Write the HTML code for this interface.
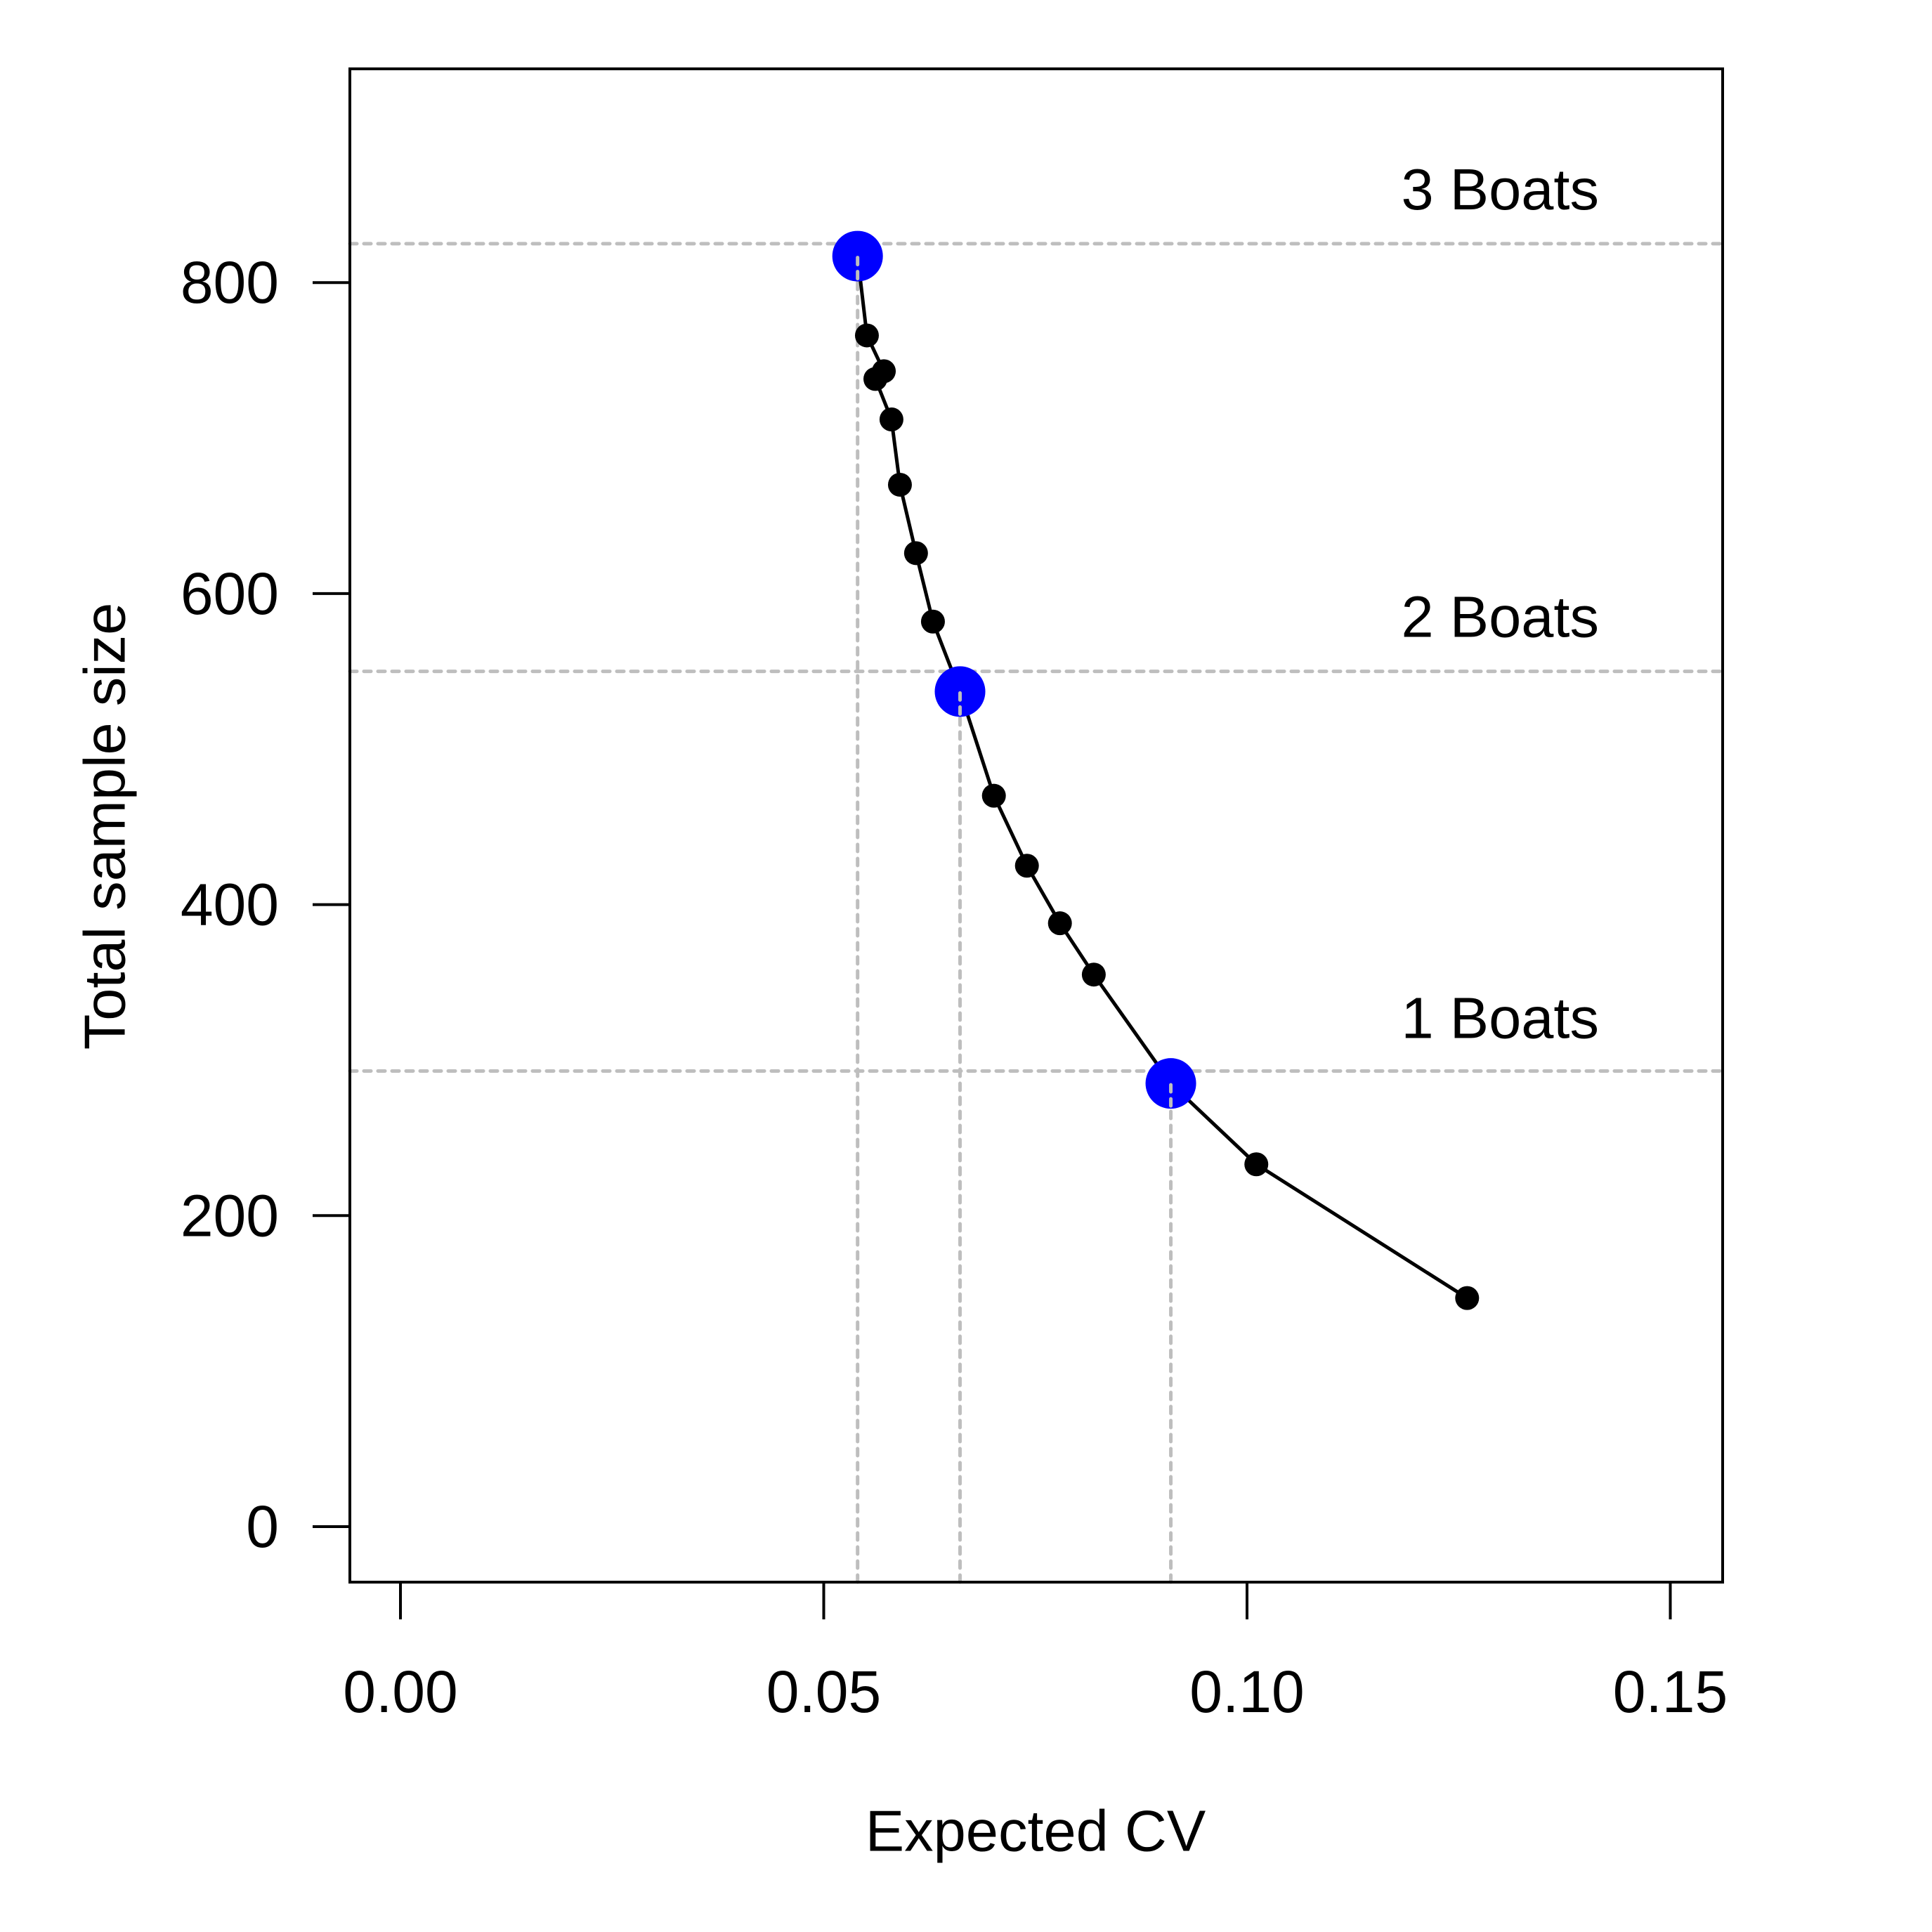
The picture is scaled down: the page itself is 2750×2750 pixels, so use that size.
<!DOCTYPE html>
<html><head><meta charset="utf-8"><style>
html,body{margin:0;padding:0;background:#fff}
svg{display:block}
text{font-family:"Liberation Sans",Arial,sans-serif;fill:#000}
</style></head><body>
<svg id="chart" width="2750" height="2750" viewBox="0 0 2750 2750" xmlns="http://www.w3.org/2000/svg">
<g id="grid"></g>
<g id="series"></g>
<g id="axes"></g>
</svg>
<script>
const cvValues=[0.0540,0.0551,0.0571,0.0561,0.0580,0.0590,0.0609,0.0629,0.0661,0.0701,0.0740,0.0779,0.0819,0.0910,0.1011,0.1260];
const sampleSizes=[817,766,743,738,712,670,626,582,537,470,425,388,355,285,233,147];
const boatCV=[0.0540,0.0661,0.0910];
const boatSize=[817,537,285];
const boatLineY=[825,550,293];
const boatLabels=["3 Boats","2 Boats","1 Boats"];
const boatLabelY=[860,585,327];
const xTicks=[0,0.05,0.10,0.15];
const xTickLabels=["0.00","0.05","0.10","0.15"];
const yTicks=[0,200,400,600,800];
const yTickLabels=["0","200","400","600","800"];

const NS="http://www.w3.org/2000/svg";
const L=498,R=2452,T=98,B=2252;
const X=v=>570+v/0.05*602.5;
const Y=v=>2173-v/200*442.7;
function mk(tag,attrs,parent,txt){const e=document.createElementNS(NS,tag);for(const k in attrs)e.setAttribute(k,attrs[k]);if(txt!==undefined)e.textContent=txt;parent.appendChild(e);return e;}
const grid=document.getElementById('grid'),series=document.getElementById('series'),axes=document.getElementById('axes');
const dash={stroke:"#bebebe","stroke-width":5,"stroke-dasharray":"10 10","stroke-linecap":"round"};

boatLineY.forEach((v,i)=>{
  const e=mk('line',Object.assign({x1:L,x2:R,y1:Y(v),y2:Y(v)},dash),grid);
  
  
});
boatCV.forEach((v,i)=>{
  const e=mk('line',Object.assign({x1:X(v),x2:X(v),y1:B,y2:Y(boatSize[i])},dash),grid);
  
  
});
boatLabels.forEach((t,i)=>{
  const e=mk('text',{x:2276,y:Y(boatLabelY[i]),"text-anchor":"end","dominant-baseline":"central","font-size":83},grid,t);
  
  
});

const pts=cvValues.map((v,i)=>X(v)+","+Y(sampleSizes[i])).join(" ");
const pl=mk('polyline',{points:pts,fill:"none",stroke:"#000","stroke-width":5},series);


cvValues.forEach((v,i)=>{
  const c=mk('circle',{cx:X(v),cy:Y(sampleSizes[i]),r:17,fill:"#000"},series);
  
  
});
boatCV.forEach((v,i)=>{
  const c=mk('circle',{cx:X(v),cy:Y(boatSize[i]),r:36,fill:"#0000ff"},series);
  
  
});
boatCV.forEach((v,i)=>{
  const e=mk('line',Object.assign({x1:X(v),x2:X(v),y1:Y(boatSize[i])+2,y2:Y(boatSize[i])+36},dash),series);
  
  
});

const box=mk('rect',{x:L,y:T,width:R-L,height:B-T,fill:"none",stroke:"#000","stroke-width":4},axes);


xTicks.forEach((v,i)=>{
  const t=mk('line',{x1:X(v),x2:X(v),y1:B,y2:B+53,stroke:"#000","stroke-width":4},axes);
  
  
  const l=mk('text',{x:X(v),y:2408,"text-anchor":"middle","dominant-baseline":"central","font-size":84},axes,xTickLabels[i]);
  
  
});
yTicks.forEach((v,i)=>{
  const t=mk('line',{x1:L-53,x2:L,y1:Y(v),y2:Y(v),stroke:"#000","stroke-width":4},axes);
  
  
  const l=mk('text',{x:397,y:Y(v),"text-anchor":"end","dominant-baseline":"central","font-size":84},axes,yTickLabels[i]);
  
  
});
const xt=mk('text',{x:1474,y:2606,"text-anchor":"middle","dominant-baseline":"central","font-size":83},axes,"Expected CV");


const yt=mk('text',{x:149,y:1176,"text-anchor":"middle","dominant-baseline":"central","font-size":83,transform:"rotate(-90 149 1176)"},axes,"Total sample size");


</script>
</body></html>
